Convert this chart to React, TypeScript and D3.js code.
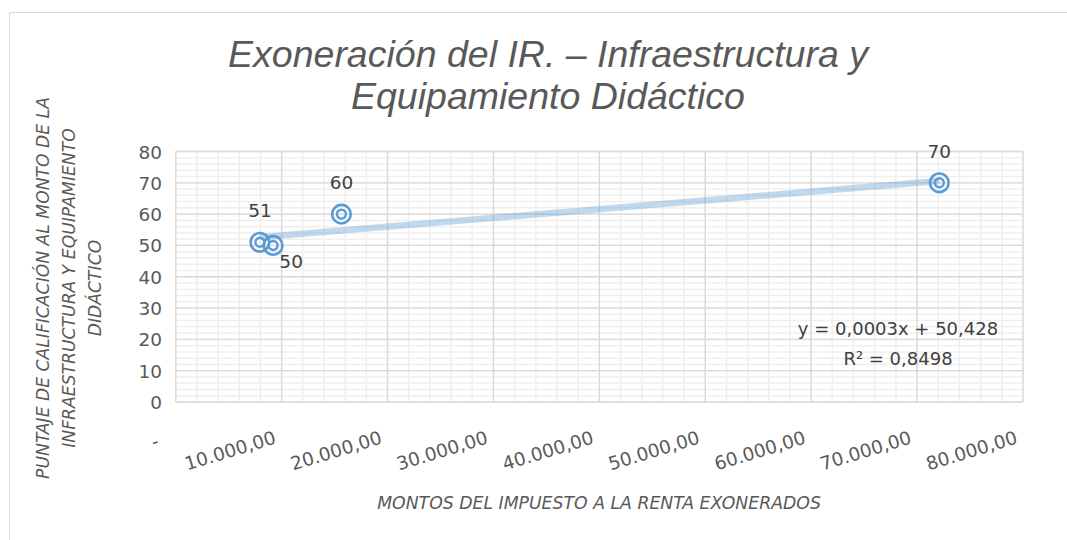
import React from "react";
import * as d3 from "d3";

const titleLines = ["Exoneración del IR. – Infraestructura y", "Equipamiento Didáctico"];
const yTitleLines = ["PUNTAJE DE CALIFICACIÓN AL MONTO DE LA", "INFRAESTRUCTURA Y EQUIPAMIENTO", "DIDÁCTICO"];
const xTitle = "MONTOS DEL IMPUESTO A LA RENTA EXONERADOS";

const montos = [7950, 9200, 15650, 72100];
const puntajes = [51, 50, 60, 70];
const labelPos = ["above", "belowRight", "above", "above"];

const xTicks = [0, 10000, 20000, 30000, 40000, 50000, 60000, 70000, 80000];
const yTicks = [0, 10, 20, 30, 40, 50, 60, 70, 80];
const equation = "y = 0,0003x + 50,428";
const r2Text = "R² = 0,8498";

const W = 1067;
const H = 540;
const plot = { left: 175.7, right: 1023, top: 151.5, bottom: 402 };

const fmtX = (v: number) =>
  v === 0
    ? "-  "
    : d3.format(",.2f")(v).replace(/,/g, "#").replace(/\./g, ",").replace(/#/g, ".");

export default function App() {
  const x = d3.scaleLinear().domain([0, 80000]).range([plot.left, plot.right]);
  const y = d3.scaleLinear().domain([0, 80]).range([plot.bottom, plot.top]);

  const minorX = d3.range(0, 80001, 2000);
  const minorY = d3.range(0, 81, 2);

  // linear regression
  const mx = d3.mean(montos)!;
  const my = d3.mean(puntajes)!;
  const sxy = d3.sum(montos.map((v, i) => (v - mx) * (puntajes[i] - my)));
  const sxx = d3.sum(montos.map((v) => (v - mx) * (v - mx)));
  const slope = sxy / sxx;
  const intercept = my - slope * mx;
  const [xmin, xmax] = d3.extent(montos) as [number, number];
  const line = d3
    .line<number>()
    .x((d) => x(d))
    .y((d) => y(intercept + slope * d));

  const font = "'DejaVu Sans', sans-serif";
  const grey = "#595959";

  return (
    <svg
      width={W}
      height={H}
      style={{ position: "absolute", left: 0, top: 0, background: "#fff" }}
    >
      <rect x={0} y={0} width={W} height={H} fill="#fff" />
      {/* frame */}
      <line x1={9.5} y1={12.5} x2={W} y2={12.5} stroke="#d9d9d9" strokeWidth={1} />
      <line x1={9.5} y1={12.5} x2={9.5} y2={H} stroke="#d9d9d9" strokeWidth={1} />

      {/* minor grid */}
      {minorX.map((v) => (
        <line key={"mx" + v} x1={x(v)} x2={x(v)} y1={plot.top} y2={plot.bottom} stroke="#efefef" strokeWidth={1.5} />
      ))}
      {minorY.map((v) => (
        <line key={"my" + v} x1={plot.left} x2={plot.right} y1={y(v)} y2={y(v)} stroke="#efefef" strokeWidth={1.5} />
      ))}
      {/* major grid */}
      {xTicks.map((v) => (
        <line key={"Mx" + v} x1={x(v)} x2={x(v)} y1={plot.top} y2={plot.bottom} stroke="#d9d9d9" strokeWidth={1.3} />
      ))}
      {yTicks.map((v) => (
        <line key={"My" + v} x1={plot.left} x2={plot.right} y1={y(v)} y2={y(v)} stroke="#d9d9d9" strokeWidth={1.3} />
      ))}

      {/* y ticks */}
      {yTicks.map((v) => (
        <text key={"yt" + v} x={162} y={y(v) + 7} textAnchor="end" fontFamily={font} fontSize={18.5} fill={grey}>
          {v}
        </text>
      ))}
      {/* x ticks */}
      {xTicks.map((v) => (
        <text
          key={"xt" + v}
          transform={`translate(${x(v) - 4.5},${443}) rotate(-17)`}
          textAnchor="end"
          fontFamily={font}
          fontSize={18.5}
          fill={grey}
          style={{ whiteSpace: "pre" }}
        >
          {fmtX(v)}
        </text>
      ))}

      {/* trendline */}
      <path
        d={line([xmin, xmax])!}
        stroke="#5b9bd5"
        strokeOpacity={0.38}
        strokeWidth={6.5}
        fill="none"
      />

      {/* points */}
      {montos.map((v, i) => (
        <g key={"p" + i} transform={`translate(${x(v)},${y(puntajes[i])})`}>
          <circle r={9.3} fill="none" stroke="#5b9bd5" strokeWidth={2.6} />
          <circle r={4.5} fill="none" stroke="#5b9bd5" strokeWidth={2.4} />
        </g>
      ))}
      {/* data labels */}
      {montos.map((v, i) => {
        const px = x(v);
        const py = y(puntajes[i]);
        const below = labelPos[i] === "belowRight";
        return (
          <text
            key={"l" + i}
            x={below ? px + 18 : px}
            y={below ? py + 23 : py - 25}
            textAnchor="middle"
            fontFamily={font}
            fontSize={18.5}
            fill="#404040"
          >
            {puntajes[i]}
          </text>
        );
      })}

      {/* equation */}
      <text x={898} y={335} textAnchor="middle" fontFamily={font} fontSize={18} fill="#404040">
        {equation}
      </text>
      <text x={898} y={365} textAnchor="middle" fontFamily={font} fontSize={18} fill="#404040">
        {r2Text}
      </text>

      {/* title */}
      {titleLines.map((t, i) => (
        <text
          key={"t" + i}
          x={548}
          y={67 + i * 42}
          textAnchor="middle"
          fontFamily="'Liberation Sans', Arial, sans-serif"
          fontStyle="italic"
          fontSize={37.5}
          fill={grey}
        >
          {t}
        </text>
      ))}

      {/* y axis title */}
      {yTitleLines.map((t, i) => (
        <text
          key={"yT" + i}
          transform={`translate(${49 + i * 26},${288}) rotate(-90)`}
          textAnchor="middle"
          fontFamily={font}
          fontStyle="italic"
          fontSize={17.2}
          fill={grey}
        >
          {t}
        </text>
      ))}

      {/* x axis title */}
      <text x={599} y={509} textAnchor="middle" fontFamily={font} fontStyle="italic" fontSize={17.3} fill={grey}>
        {xTitle}
      </text>
    </svg>
  );
}
